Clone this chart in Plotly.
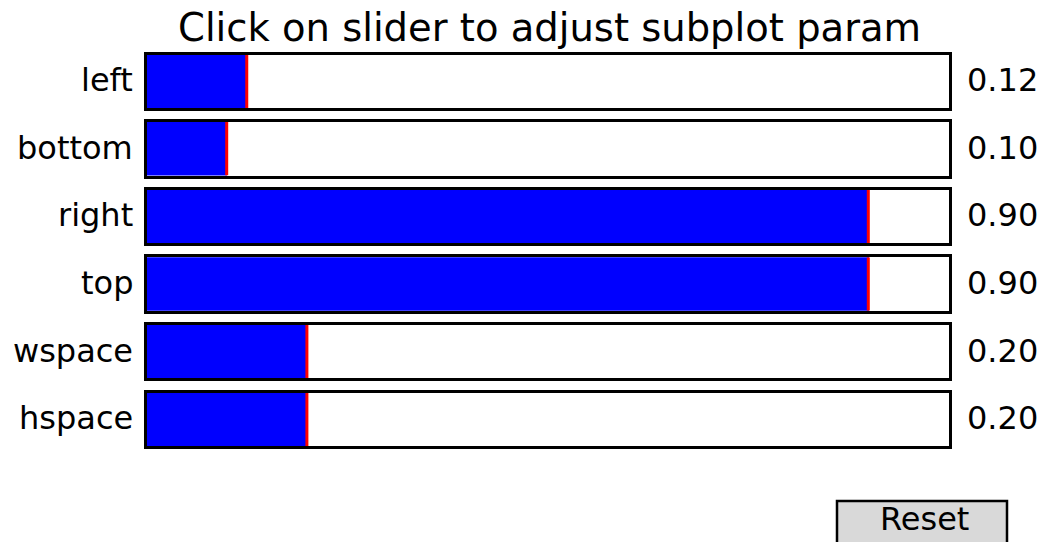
import plotly.graph_objects as go
from plotly.subplots import make_subplots

# Data
param_names = ["left", "bottom", "right", "top", "wspace", "hspace"]
param_values = [0.125, 0.10, 0.90, 0.90, 0.20, 0.20]
title_text = "Click on slider to adjust subplot param"
button_text = "Reset"

W, H = 1042, 542
FONT = "DejaVu Sans"

fig = make_subplots(rows=6, cols=1)

x0_px, x1_px = 146.5, 948.5
top0, step, box_h = 54.5, 67.6, 53.5

def px_y(y):
    return 1 - y / H

for i, (name, val) in enumerate(zip(param_names, param_values)):
    r = i + 1
    fig.add_trace(go.Bar(x=[val], y=[0], base=0, orientation="h", width=1,
                         marker=dict(color="#0000ff", line=dict(width=0)),
                         showlegend=False, hoverinfo="skip"), row=r, col=1)
    fig.add_trace(go.Scatter(x=[val, val], y=[-0.5, 0.5], mode="lines",
                             line=dict(color="#ff0000", width=3),
                             showlegend=False, hoverinfo="skip"), row=r, col=1)
    top = top0 + i * step
    bot = top + box_h
    xa = "xaxis" if r == 1 else f"xaxis{r}"
    ya = "yaxis" if r == 1 else f"yaxis{r}"
    fig.layout[xa].update(domain=[x0_px / W, x1_px / W], range=[0, 1],
                          showgrid=False, zeroline=False, showticklabels=False,
                          ticks="", showline=True, mirror=True,
                          linecolor="black", linewidth=2.5, fixedrange=True)
    fig.layout[ya].update(domain=[px_y(bot), px_y(top)], range=[-0.5, 0.5],
                          showgrid=False, zeroline=False, showticklabels=False,
                          ticks="", showline=True, mirror=True,
                          linecolor="black", linewidth=2.5, fixedrange=True)
    yc = px_y((top + bot) / 2 - 1)
    fig.add_annotation(x=135 / W, y=yc, xref="paper", yref="paper", text=name,
                       showarrow=False, xanchor="right", yanchor="middle",
                       font=dict(family=FONT, size=32, color="black"))
    fig.add_annotation(x=965 / W, y=yc, xref="paper", yref="paper",
                       text=f"{val:.2f}", showarrow=False, xanchor="left",
                       yanchor="middle",
                       font=dict(family=FONT, size=32, color="black"))

fig.add_annotation(x=549 / W, y=px_y(28), xref="paper", yref="paper",
                   text=title_text, showarrow=False, xanchor="center",
                   yanchor="middle", font=dict(family=FONT, size=38.5, color="black"))

# Reset button
fig.add_shape(type="rect", xref="paper", yref="paper",
              x0=837 / W, x1=1007 / W, y0=px_y(560), y1=px_y(501),
              line=dict(color="black", width=2.5), fillcolor="#d9d9d9", layer="above")
fig.add_annotation(x=924 / W, y=px_y(519), xref="paper", yref="paper",
                   text=button_text, showarrow=False, xanchor="center",
                   yanchor="middle", font=dict(family=FONT, size=32, color="black"))

fig.update_layout(width=W, height=H, margin=dict(l=0, r=0, t=0, b=0),
                  paper_bgcolor="white", plot_bgcolor="white",
                  bargap=0, showlegend=False)

fig.write_html("out.html", config={"displayModeBar": False},
               post_script="document.body.style.margin='0';document.body.style.overflow='hidden';")
